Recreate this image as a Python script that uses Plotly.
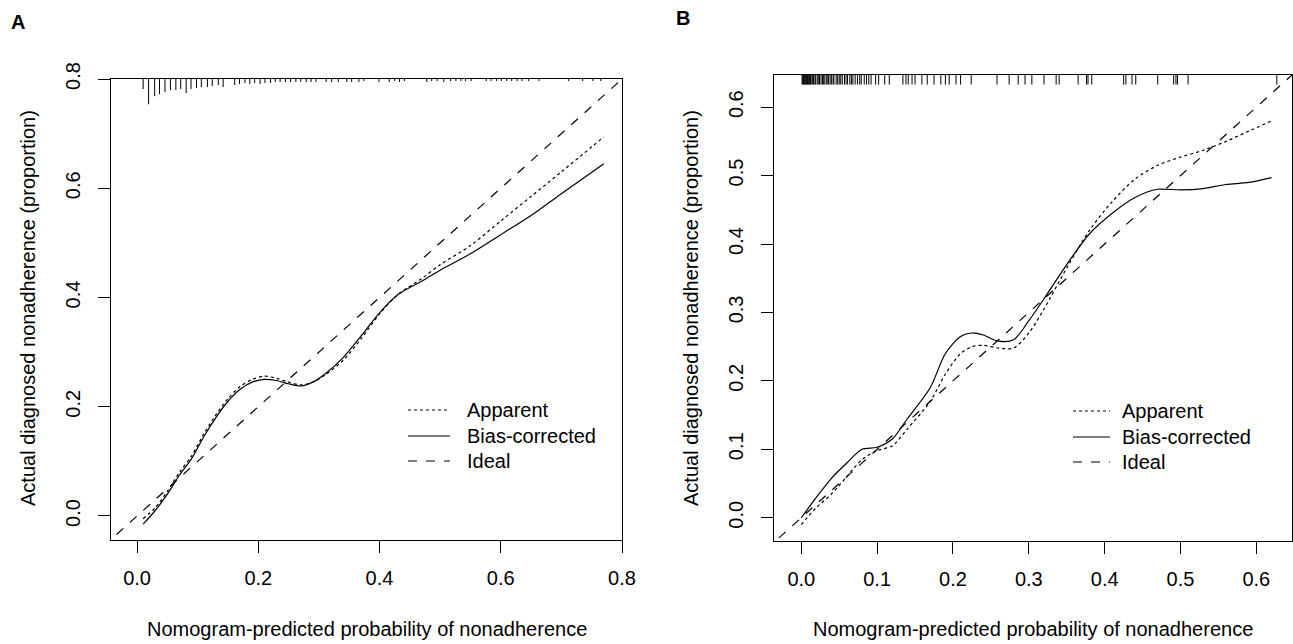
import plotly.graph_objects as go

# ---------------- Panel A data ----------------
a_x = [0.01, 0.03, 0.05, 0.07, 0.09, 0.11, 0.13, 0.15, 0.17, 0.19, 0.21, 0.23, 0.25, 0.27,
       0.29, 0.31, 0.34, 0.37, 0.40, 0.43, 0.47, 0.50, 0.55, 0.60, 0.65, 0.70, 0.77]
a_apparent = [-0.005, 0.015, 0.045, 0.080, 0.110, 0.150, 0.185, 0.215, 0.237, 0.250, 0.256, 0.252,
              0.245, 0.240, 0.245, 0.258, 0.285, 0.325, 0.370, 0.405, 0.435, 0.460, 0.495, 0.540,
              0.585, 0.630, 0.694]
a_bias = [-0.015, 0.010, 0.040, 0.075, 0.105, 0.145, 0.180, 0.210, 0.232, 0.245, 0.250, 0.248,
          0.242, 0.238, 0.245, 0.260, 0.290, 0.330, 0.372, 0.405, 0.430, 0.450, 0.480, 0.515,
          0.550, 0.590, 0.645]
a_rug_x = [0.010, 0.019, 0.029, 0.037, 0.046, 0.055, 0.064, 0.072, 0.081, 0.089, 0.098, 0.106,
           0.116, 0.124, 0.134, 0.142, 0.161, 0.169, 0.178, 0.186, 0.194, 0.203, 0.211, 0.220,
           0.228, 0.236, 0.245, 0.253, 0.262, 0.270, 0.279, 0.287, 0.295, 0.312, 0.321, 0.332,
           0.346, 0.354, 0.366, 0.374, 0.399, 0.416, 0.425, 0.433, 0.441, 0.478, 0.486, 0.495,
           0.506, 0.517, 0.526, 0.534, 0.542, 0.551, 0.576, 0.584, 0.593, 0.601, 0.610, 0.618,
           0.627, 0.635, 0.646, 0.663, 0.712, 0.735, 0.752, 0.765]
a_rug_n = [10, 25, 17, 15, 13, 11, 11, 10, 14, 10, 9, 8, 8, 7, 6, 8, 6, 5, 4, 5, 4, 5, 4, 4,
           3, 3, 3, 3, 3, 3, 3, 3, 3, 3, 3, 3, 3, 3, 3, 2, 3, 3, 2, 3, 2, 3, 2, 2, 3, 2, 2, 2,
           2, 2, 2, 2, 2, 2, 2, 2, 2, 2, 2, 2, 2, 2, 2, 2]
a_ticks = [0.0, 0.2, 0.4, 0.6, 0.8]
a_ticklabels = ["0.0", "0.2", "0.4", "0.6", "0.8"]

# ---------------- Panel B data ----------------
b_x = [0.00, 0.02, 0.04, 0.06, 0.08, 0.10, 0.12, 0.14, 0.17, 0.19, 0.21, 0.225, 0.24, 0.26,
       0.28, 0.30, 0.32, 0.35, 0.38, 0.41, 0.44, 0.47, 0.50, 0.53, 0.56, 0.59, 0.62]
b_apparent = [-0.010, 0.015, 0.035, 0.060, 0.085, 0.098, 0.105, 0.130, 0.170, 0.210, 0.240, 0.250,
              0.252, 0.248, 0.248, 0.270, 0.305, 0.365, 0.420, 0.462, 0.495, 0.515, 0.527, 0.537,
              0.550, 0.565, 0.580]
b_bias = [0.000, 0.030, 0.058, 0.080, 0.100, 0.103, 0.115, 0.145, 0.190, 0.240, 0.265, 0.270,
          0.267, 0.258, 0.260, 0.288, 0.320, 0.370, 0.415, 0.445, 0.468, 0.480, 0.479, 0.481,
          0.487, 0.490, 0.497]
b_rug_x = [0.001, 0.002, 0.003, 0.004, 0.005, 0.006, 0.007, 0.008, 0.009, 0.010, 0.011, 0.012,
           0.013, 0.015, 0.016, 0.018, 0.019, 0.021, 0.023, 0.024, 0.026, 0.028, 0.029, 0.031,
           0.033, 0.035, 0.036, 0.038, 0.040, 0.042, 0.043, 0.046, 0.048, 0.050, 0.052, 0.054,
           0.057, 0.059, 0.061, 0.064, 0.066, 0.068, 0.071, 0.074, 0.077, 0.079, 0.083, 0.086,
           0.089, 0.092, 0.098, 0.102, 0.110, 0.116, 0.134, 0.138, 0.141, 0.146, 0.150, 0.159,
           0.166, 0.175, 0.184, 0.190, 0.195, 0.204, 0.210, 0.224, 0.258, 0.274, 0.286, 0.295,
           0.304, 0.320, 0.336, 0.340, 0.365, 0.376, 0.378, 0.383, 0.425, 0.428, 0.436, 0.441,
           0.470, 0.491, 0.494, 0.496, 0.510, 0.627]
b_ticks = [0.0, 0.1, 0.2, 0.3, 0.4, 0.5, 0.6]
b_ticklabels = ["0.0", "0.1", "0.2", "0.3", "0.4", "0.5", "0.6"]

ideal = [-0.1, 1.0]
legend_names = ["Apparent", "Bias-corrected", "Ideal"]
x_title = "Nomogram-predicted probability of nonadherence"
y_title = "Actual diagnosed nonadherence (proportion)"

FONT = "Liberation Sans, Arial, sans-serif"
W, H = 1293, 644

# plot boxes (pixels): left, right, top, bottom
boxA = (111, 622, 79, 540)
boxB = (774, 1292, 75, 541)
rangeA_x, rangeA_y = [-0.043, 0.8], [-0.044, 0.8]
rangeB_x, rangeB_y = [-0.036, 0.647], [-0.034, 0.647]

fig = go.Figure()


def rug_segments(xs, top, lengths):
    sx, sy = [], []
    for xv, ln in zip(xs, lengths):
        sx += [xv, xv, None]
        sy += [top, top - ln, None]
    return sx, sy


# Panel A traces
ax, ay = rug_segments(a_rug_x, rangeA_y[1], [n * 0.00185 for n in a_rug_n])
fig.add_trace(go.Scatter(x=ax, y=ay, mode="lines", line=dict(color="black", width=1),
                         showlegend=False, hoverinfo="skip", xaxis="x", yaxis="y"))
fig.add_trace(go.Scatter(x=ideal, y=ideal, mode="lines", line=dict(color="black", width=1.2, dash="dash"),
                         showlegend=False, xaxis="x", yaxis="y"))
fig.add_trace(go.Scatter(x=a_x, y=a_apparent, mode="lines", line=dict(color="black", width=1.2, dash="dot", shape="spline", smoothing=0.8),
                         showlegend=False, xaxis="x", yaxis="y"))
fig.add_trace(go.Scatter(x=a_x, y=a_bias, mode="lines", line=dict(color="black", width=1.2, shape="spline", smoothing=0.8),
                         showlegend=False, xaxis="x", yaxis="y"))

# Panel B traces
bx, by = rug_segments(b_rug_x, rangeB_y[1], [0.014] * len(b_rug_x))
fig.add_trace(go.Scatter(x=bx, y=by, mode="lines", line=dict(color="black", width=1),
                         showlegend=False, hoverinfo="skip", xaxis="x2", yaxis="y2"))
fig.add_trace(go.Scatter(x=ideal, y=ideal, mode="lines", line=dict(color="black", width=1.2, dash="dash"),
                         showlegend=False, xaxis="x2", yaxis="y2"))
fig.add_trace(go.Scatter(x=b_x, y=b_apparent, mode="lines", line=dict(color="black", width=1.2, dash="dot", shape="spline", smoothing=0.8),
                         showlegend=False, xaxis="x2", yaxis="y2"))
fig.add_trace(go.Scatter(x=b_x, y=b_bias, mode="lines", line=dict(color="black", width=1.2, shape="spline", smoothing=0.8),
                         showlegend=False, xaxis="x2", yaxis="y2"))


def axis_common(rng, ticks, labels, dom, anchor, is_y):
    d = dict(range=rng, domain=dom, anchor=anchor, tickmode="array", tickvals=ticks, ticktext=labels,
             showgrid=False, zeroline=False, showline=True, mirror=True, linecolor="black", linewidth=1,
             ticks="outside", ticklen=12, tickwidth=1, tickcolor="black",
             tickfont=dict(family=FONT, size=20, color="black"), automargin=False, fixedrange=True)
    if is_y:
        d["tickangle"] = -90
        d["ticklabelstandoff"] = 10
    else:
        d["ticklabelstandoff"] = 8
    return d


def xdom(b):
    return [b[0] / W, b[1] / W]


def ydom(b):
    return [1 - b[3] / H, 1 - b[2] / H]


fig.update_layout(
    width=W, height=H, margin=dict(l=0, r=0, t=0, b=0),
    paper_bgcolor="white", plot_bgcolor="white", showlegend=False,
    xaxis=axis_common(rangeA_x, a_ticks, a_ticklabels, xdom(boxA), "y", False),
    yaxis=axis_common(rangeA_y, a_ticks, a_ticklabels, ydom(boxA), "x", True),
    xaxis2=axis_common(rangeB_x, b_ticks, b_ticklabels, xdom(boxB), "y2", False),
    yaxis2=axis_common(rangeB_y, b_ticks, b_ticklabels, ydom(boxB), "x2", True),
)

annos = []
shapes = []
styles = [dict(dash="dot"), dict(dash="solid"), dict(dash="dash")]
for box, lab, lab_pos, leg in [
    (boxA, "A", (18, 22), (408, 450, 465, [410, 436, 461])),
    (boxB, "B", (683, 18), (1073, 1110, 1120, [411, 437, 462])),
]:
    cx = (box[0] + box[1]) / 2
    annos.append(dict(text="<b>%s</b>" % lab, x=lab_pos[0] / W, y=1 - lab_pos[1] / H, xref="paper", yref="paper",
                      showarrow=False, xanchor="center", yanchor="middle", font=dict(family=FONT, size=20, color="black")))
    annos.append(dict(text=x_title, x=cx / W, y=1 - 629 / H, xref="paper", yref="paper", showarrow=False,
                      xanchor="center", yanchor="middle", font=dict(family=FONT, size=20, color="black")))
    annos.append(dict(text=y_title, x=(box[0] - 83) / W, y=1 - 308 / H, xref="paper", yref="paper", showarrow=False,
                      textangle=-90, xanchor="center", yanchor="middle", font=dict(family=FONT, size=20, color="black")))
    x0, x1, tx, ys = leg
    for name, st, yy in zip(legend_names, styles, ys):
        shapes.append(dict(type="line", xref="paper", yref="paper", x0=x0 / W, x1=x1 / W, y0=1 - yy / H, y1=1 - yy / H,
                           line=dict(color="black", width=1.2, dash=st["dash"])))
        annos.append(dict(text=name, x=tx / W, y=1 - yy / H, xref="paper", yref="paper", showarrow=False,
                          xanchor="left", yanchor="middle", font=dict(family=FONT, size=20, color="black")))

fig.update_layout(annotations=annos, shapes=shapes)
fig.write_html("out.html", config={"displayModeBar": False},
               post_script="document.body.style.margin='0';document.body.style.padding='0';")
